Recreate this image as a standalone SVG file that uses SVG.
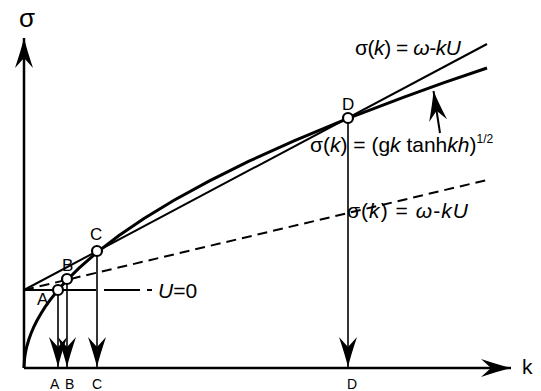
<svg xmlns="http://www.w3.org/2000/svg" width="541" height="391" viewBox="0 0 541 391">
<style>
text{font-family:"Liberation Sans",Arial,sans-serif;fill:#000}
.lbl{font-size:17px}
.ax{font-size:14px}
.eq{font-size:21px}
.it{font-style:italic}
.ln{fill:none;stroke:#000}
.pt{fill:#fff;stroke:#000;stroke-width:2.2}
</style>
<defs>
<marker id="ah" markerUnits="userSpaceOnUse" orient="auto" markerWidth="40" markerHeight="24" refX="0" refY="0" overflow="visible">
<path d="M0,0 Q-12,-3 -30,-9 L-20,0 L-30,9 Q-12,3 0,0Z" fill="#000"/>
</marker>
</defs>
<g id="labels">
<text x="19" y="27" style="font-size:26px">σ</text>
<text x="522" y="374" style="font-size:21px">k</text>
<text class="ax" x="50" y="389">A</text>
<text class="ax" x="65" y="389">B</text>
<text class="ax" x="92" y="389">C</text>
<text class="ax" x="347" y="389">D</text>
<text class="lbl" x="37" y="305">A</text>
<text class="lbl" x="62" y="271">B</text>
<text class="lbl" x="90" y="240">C</text>
<text class="lbl" x="342" y="110">D</text>
<text class="eq" x="355" y="55" textLength="106" lengthAdjust="spacing">σ(<tspan class="it">k</tspan>) = <tspan class="it">ω</tspan>-<tspan class="it">kU</tspan></text>
<text class="eq" x="310" y="152">σ(<tspan class="it">k</tspan>) = (g<tspan class="it">k</tspan> tanh<tspan class="it">kh</tspan>)<tspan style="font-size:12px" dy="-9">1/2</tspan></text>
<text class="eq" x="347" y="218" textLength="121" lengthAdjust="spacing">σ(<tspan class="it">k</tspan>) = <tspan class="it">ω</tspan>-<tspan class="it">kU</tspan></text>
<text class="eq" x="158" y="298"><tspan class="it">U</tspan>=0</text>
</g>
<g id="connectors">
<line id="sigma-axis" class="ln" x1="24" y1="368" x2="24" y2="38" stroke-width="2.5" marker-end="url(#ah)"/>
<line id="k-axis" class="ln" x1="24" y1="368" x2="511" y2="368" stroke-width="2.5" marker-end="url(#ah)"/>
<path id="dispersion" class="ln" stroke-width="3" d="M24,368 L24.5,359.2 L25,355.4 L26,349.9 L27,345.7 L29,339 L31,333.5 L34,326.5 L37,320.5 L41,313.5 L45,307.1 L50,300.1 L58,290 L67,280 L79,268.1 L97,252.3 L119,235.5 L144,218.5 L174,200.3 L209,181.1 L249,161.2 L294,140.9 L348,118.4 L404,97.1 L444,82.7 L487,68"/>
<line id="tangent" class="ln" x1="24" y1="290" x2="487" y2="44" stroke-width="2"/>
<line id="doppler" class="ln" x1="24" y1="290" x2="487" y2="180" stroke-width="2" stroke-dasharray="10 6"/>
<path id="u0" class="ln" stroke-width="2" d="M24,290 H52 M60,290 H96 M104,290 H140 M147,290 H152"/>
<line class="ln" x1="58" y1="294" x2="58" y2="367" stroke-width="1.6" marker-end="url(#ah)"/>
<line class="ln" x1="67" y1="283" x2="67" y2="367" stroke-width="1.6" marker-end="url(#ah)"/>
<line class="ln" x1="97" y1="255" x2="97" y2="367" stroke-width="1.6" marker-end="url(#ah)"/>
<line class="ln" x1="348" y1="122" x2="348" y2="367" stroke-width="1.6" marker-end="url(#ah)"/>
<line class="ln" x1="440" y1="133" x2="433.5" y2="91" stroke-width="2" marker-end="url(#ah)"/>
</g>
<g id="point-A"><circle class="pt" cx="58" cy="290" r="5"/></g>
<g id="point-B"><circle class="pt" cx="67" cy="279" r="5"/></g>
<g id="point-C"><circle class="pt" cx="97" cy="251" r="5"/></g>
<g id="point-D"><circle class="pt" cx="348" cy="118" r="5"/></g>
</svg>
